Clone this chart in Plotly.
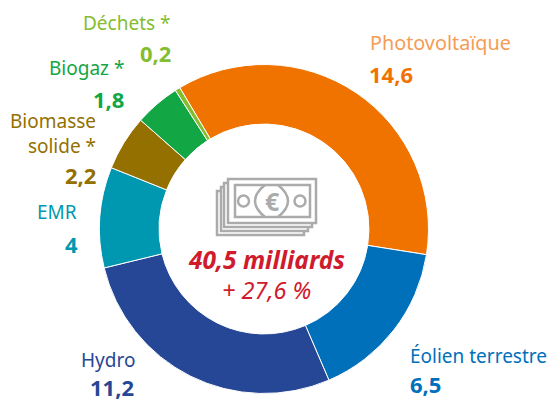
import plotly.graph_objects as go

W, H = 550, 401
FONT = "Noto Sans"

categories = ["Photovoltaïque", "Éolien terrestre", "Hydro", "EMR", "Biomasse solide *", "Biogaz *", "Déchets *"]
values = [14.6, 6.5, 11.2, 4, 2.2, 1.8, 0.2]
value_labels = ["14,6", "6,5", "11,2", "4", "2,2", "1,8", "0,2"]
colors = ["#f07300", "#0070bb", "#264796", "#0097b0", "#937000", "#12a644", "#84bd2f"]
label_colors = ["#f59c55", "#0070bb", "#264796", "#0097b0", "#937000", "#12a644", "#84bd2f"]
total_label = "40,5 milliards"
growth_label = "+ 27,6 %"
GREY = "#ababab"
RED = "#cf1b2b"

def px(x):
    return x / W

def py(y):
    return 1 - y / H

fig = go.Figure(go.Pie(
    labels=categories, values=values, sort=False, direction="clockwise", rotation=-30.8,
    hole=0.638, textinfo="none", hoverinfo="label+value",
    marker=dict(colors=colors, line=dict(color="white", width=1)),
    domain=dict(x=[px(99.5), px(428.5)], y=[py(393.5), py(64.5)]),
    showlegend=False,
))

def note(x, y, text, color, size, anchor="center", bold=False, italic=False):
    t = f"<b>{text}</b>" if bold else text
    t = f"<i>{t}</i>" if italic else t
    fig.add_annotation(x=px(x), y=py(y), xref="paper", yref="paper", text=t, showarrow=False,
                       xanchor=anchor, yanchor="middle", align="right" if anchor == "right" else "center",
                       font=dict(family=FONT, size=size, color=color))

label_pos = [
    (368, 43, "left"), (408, 356, "left"), (79, 360, "left"), (35, 212, "left"),
    (98, 133, "right"), (126, 68, "right"), (173, 23, "right"),
]
value_pos = [
    (367, 74, "left"), (408, 384, "left"), (88, 386.5, "left"), (63, 244, "left"),
    (98, 175, "right"), (126, 99, "right"), (173, 53, "right"),
]
name_sizes = [19.8, 19, 19, 19, 19, 19, 19]
names = ["Photovoltaïque", "Éolien terrestre", "Hydro", "EMR", "Biomasse<br>solide *", "Biogaz *", "Déchets *"]
for i, n in enumerate(names):
    lx, ly, la = label_pos[i]
    vx, vy, va = value_pos[i]
    note(lx, ly, n, label_colors[i], name_sizes[i], la)
    note(vx, vy, value_labels[i], colors[i], 22, va, bold=True)

note(266, 259, total_label, RED, 24.5, italic=True, bold=True)
note(266, 290, growth_label, RED, 23.5, italic=True)

def rect(x0, y0, x1, y1, fill="white"):
    fig.add_shape(type="rect", xref="paper", yref="paper", x0=px(x0), x1=px(x1), y0=py(y0), y1=py(y1),
                  line=dict(color=GREY, width=2.5), fillcolor=fill)

def circle(cx, cy, r):
    fig.add_shape(type="circle", xref="paper", yref="paper", x0=px(cx - r), x1=px(cx + r),
                  y0=py(cy - r), y1=py(cy + r), line=dict(color=GREY, width=2.5))

def path(d):
    fig.add_shape(type="path", xref="paper", yref="paper", path=d, line=dict(color=GREY, width=2.5))

rect(217, 191, 304, 235)
rect(221, 187, 308, 231)
rect(224, 183, 312, 227)
rect(228, 179, 316, 223)
rect(235, 185, 310, 217)
circle(243.5, 201, 5.5)
circle(300, 201, 5.5)
for a, c in [(265, 245), (278, 298)]:
    path(f"M {px(a)} {py(185)} Q {px(c)} {py(201)} {px(a)} {py(217)}")
fig.add_annotation(x=px(272), y=py(201), xref="paper", yref="paper", text="<b>€</b>", showarrow=False,
                   font=dict(family=FONT, size=25, color=GREY))

fig.update_layout(width=W, height=H, margin=dict(l=0, r=0, t=0, b=0), paper_bgcolor="white",
                  plot_bgcolor="white")
fig.write_html("out.html", config={"displayModeBar": False},
               post_script="document.body.style.margin='0';document.body.style.overflow='hidden';")
